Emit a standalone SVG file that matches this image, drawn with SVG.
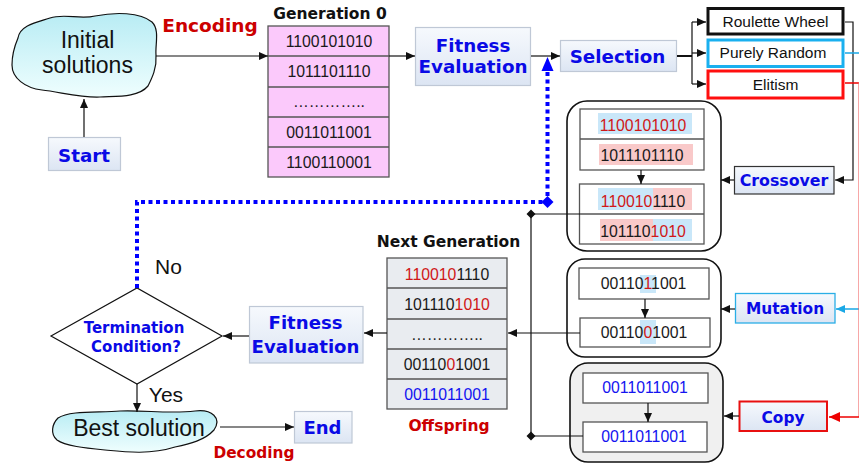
<svg xmlns="http://www.w3.org/2000/svg" width="859" height="464" viewBox="0 0 859 464">
<defs>
<linearGradient id="gBox" x1="0" y1="0" x2="0" y2="1"><stop offset="0" stop-color="#f6f9fd"/><stop offset="1" stop-color="#dce5f3"/></linearGradient>
<linearGradient id="gCloud" x1="0" y1="0" x2="0" y2="1"><stop offset="0" stop-color="#b8ecf4"/><stop offset="1" stop-color="#effefe"/></linearGradient>
<marker id="aBk" markerUnits="userSpaceOnUse" markerWidth="10" markerHeight="8" refX="9" refY="4" orient="auto"><path d="M0,0 L9,4 L0,8 Z" fill="#111"/></marker>
<marker id="aSky" markerUnits="userSpaceOnUse" markerWidth="10" markerHeight="8" refX="9" refY="4" orient="auto"><path d="M0,0 L9,4 L0,8 Z" fill="#1aa8e6"/></marker>
<marker id="aRed" markerUnits="userSpaceOnUse" markerWidth="12" markerHeight="10" refX="11" refY="5" orient="auto"><path d="M0,0 L11,5 L0,10 Z" fill="#ee0000"/></marker>
</defs>
<style>
.lbl{fill:url(#gBox);stroke:#bfc8d6;stroke-width:1.2}
.bt{font-family:"DejaVu Sans",Verdana,sans-serif;font-weight:bold;fill:#0a0ae6;text-anchor:middle}
.blk{font-family:"DejaVu Sans",Verdana,sans-serif;font-weight:bold;fill:#111;text-anchor:middle}
.redb{font-family:"DejaVu Sans",Verdana,sans-serif;font-weight:bold;fill:#cc0000;text-anchor:middle}
.rt{font-family:"Liberation Sans",Arial,sans-serif;fill:#111;text-anchor:middle}
.dg{font-family:"Liberation Sans",Arial,sans-serif;font-size:15.8px;fill:#1a1a1a;text-anchor:middle}
.r{fill:#d01818}
.b{fill:#1414f0}
.cell{stroke:#555;stroke-width:1.3}
.box{fill:#fff;stroke:#555;stroke-width:1.3}
.grp{fill:#fff;stroke:#111;stroke-width:1.6}
.ln{fill:none;stroke:#111;stroke-width:1.2}
.hb{fill:#c9e7f9}
.hp{fill:#f9c9c9}
</style>

<g id="initial">
<path d="M18,38 C20,25 38,22 50,18 C65,13 80,20 95,16 C115,12 140,12 152,22 C160,30 155,45 156,55 C157,68 152,78 148,86 C138,98 115,96 100,97 C82,98 60,92 42,90 C25,88 12,78 12,65 C12,55 15,45 18,38 Z" fill="url(#gCloud)" stroke="#111" stroke-width="1.2"/>
<text class="rt" x="87.5" y="48" font-size="23">Initial</text>
<text class="rt" x="87.5" y="73" font-size="23">solutions</text>
</g>

<g id="start">
<rect class="lbl" x="48.5" y="137.5" width="72" height="33"/>
<text class="bt" x="84" y="162" font-size="18.3">Start</text>
</g>

<text class="redb" x="210" y="32" font-size="18.5">Encoding</text>

<g id="gen0">
<text class="blk" x="330" y="19" font-size="15.5">Generation 0</text>
<rect class="cell" x="268" y="26" width="121" height="151" fill="#fbc9fb"/>
<line class="cell" x1="268" y1="56" x2="389" y2="56"/>
<line class="cell" x1="268" y1="87" x2="389" y2="87"/>
<line class="cell" x1="268" y1="117" x2="389" y2="117"/>
<line class="cell" x1="268" y1="147" x2="389" y2="147"/>
<text class="dg" x="329" y="47">1100101010</text>
<text class="dg" x="329" y="77">1011101110</text>
<text class="dg" x="329" y="107">…………..</text>
<text class="dg" x="329" y="138">0011011001</text>
<text class="dg" x="329" y="168">1100110001</text>
</g>

<g id="fitness1">
<rect class="lbl" x="415.5" y="27.5" width="115" height="58"/>
<text class="bt" x="473" y="52" font-size="18.3">Fitness</text>
<text class="bt" x="473" y="73" font-size="18.3">Evaluation</text>
</g>

<g id="selection">
<rect class="lbl" x="560.5" y="40.5" width="116" height="31"/>
<text class="bt" x="617.5" y="63" font-size="18.3">Selection</text>
</g>

<g id="roulette">
<rect x="708" y="8.5" width="135" height="25.5" fill="#fff" stroke="#111" stroke-width="3"/>
<text class="rt" x="775.5" y="27" font-size="15.5">Roulette Wheel</text>
</g>
<g id="random">
<rect x="708" y="40" width="135" height="26.5" fill="#fff" stroke="#1ab0ef" stroke-width="3"/>
<text class="rt" x="773" y="58" font-size="15.5">Purely Random</text>
</g>
<g id="elitism">
<rect x="708" y="71" width="135" height="27" fill="#fff" stroke="#ff0f0f" stroke-width="3"/>
<text class="rt" x="775.5" y="90" font-size="15.5">Elitism</text>
</g>

<g id="crossoverGroup">
<rect class="grp" x="567" y="101" width="154" height="150" rx="20"/>
<rect class="box" x="580" y="109" width="124" height="61"/>
<line class="cell" x1="580" y1="139" x2="704" y2="139"/>
<rect class="hb" x="598" y="113" width="94" height="21"/>
<rect class="hp" x="599" y="144" width="94" height="21"/>
<text class="dg" x="643" y="131"><tspan class="r">1100101010</tspan></text>
<text class="dg" x="642" y="161">1011101110</text>
<rect class="box" x="579.5" y="184" width="124.5" height="60"/>
<line class="cell" x1="579.5" y1="214" x2="704" y2="214"/>
<rect class="hb" x="598" y="188" width="55" height="22"/>
<rect class="hp" x="653" y="188" width="39" height="22"/>
<rect class="hp" x="600" y="219" width="53" height="22"/>
<rect class="hb" x="653" y="219" width="39" height="22"/>
<text class="dg" x="643" y="207"><tspan class="r">110010</tspan>1110</text>
<text class="dg" x="643" y="237">101110<tspan class="r">1010</tspan></text>
</g>

<g id="crossover">
<rect x="734.5" y="166.5" width="99.5" height="27.5" fill="url(#gBox)" stroke="#333" stroke-width="1.2"/>
<text class="bt" x="784" y="186" font-size="15.8">Crossover</text>
</g>

<g id="mutationGroup">
<rect class="grp" x="567" y="259" width="154" height="98" rx="18"/>
<rect class="box" x="579" y="268" width="130" height="31"/>
<rect class="hb" x="640" y="275" width="16" height="18"/>
<text class="dg" x="643.5" y="289">00110<tspan class="r">1</tspan>1001</text>
<rect class="box" x="580" y="318" width="130" height="29"/>
<rect class="hb" x="640" y="320" width="16" height="24"/>
<text class="dg" x="644" y="338">00110<tspan class="r">0</tspan>1001</text>
</g>

<g id="mutation">
<rect x="735.5" y="293.5" width="99.5" height="29.5" fill="url(#gBox)" stroke="#2aaee6" stroke-width="1.3"/>
<text class="bt" x="785" y="314" font-size="15.4">Mutation</text>
</g>

<g id="copyGroup">
<rect x="570" y="363" width="153" height="99" rx="18" fill="#f0f0f0" stroke="#111" stroke-width="1.6"/>
<rect class="box" x="583" y="373" width="125" height="30"/>
<text class="dg b" x="645" y="393">0011011001</text>
<rect class="box" x="583" y="422" width="124" height="30"/>
<text class="dg b" x="644" y="442">0011011001</text>
</g>

<g id="copy">
<rect x="739.5" y="401.5" width="87.5" height="29.5" fill="url(#gBox)" stroke="#e81010" stroke-width="2"/>
<text class="bt" x="783" y="423" font-size="15.4">Copy</text>
</g>

<g id="nextGen">
<text class="blk" x="448.5" y="247" font-size="15.5">Next Generation</text>
<rect class="cell" x="387" y="258" width="120" height="151" fill="#e9ecf0"/>
<line class="cell" x1="387" y1="288" x2="507" y2="288"/>
<line class="cell" x1="387" y1="319" x2="507" y2="319"/>
<line class="cell" x1="387" y1="349" x2="507" y2="349"/>
<line class="cell" x1="387" y1="379" x2="507" y2="379"/>
<text class="dg" x="447" y="280"><tspan class="r">110010</tspan>1110</text>
<text class="dg" x="447" y="310">101110<tspan class="r">1010</tspan></text>
<text class="dg" x="447" y="340">…………..</text>
<text class="dg" x="447" y="370">00110<tspan class="r">0</tspan>1001</text>
<text class="dg b" x="447" y="400">0011011001</text>
<text class="redb" x="449" y="431" font-size="15.5">Offspring</text>
</g>

<g id="fitness2">
<rect class="lbl" x="249.5" y="306.5" width="113.5" height="56.5"/>
<text class="bt" x="305.5" y="329" font-size="18.1">Fitness</text>
<text class="bt" x="305.5" y="353" font-size="18.1">Evaluation</text>
</g>

<g id="termination">
<path d="M51,336 L137,288 L222,336 L137,384 Z" fill="#fff" stroke="#111" stroke-width="1.2"/>
<text class="bt" x="134" y="333" font-size="15">Termination</text>
<text class="bt" x="136" y="352" font-size="15">Condition?</text>
</g>

<text class="rt" x="168.5" y="274" font-size="21">No</text>
<text class="rt" x="166" y="402" font-size="21">Yes</text>

<g id="best">
<path d="M58,418 C70,410 100,413 120,411 C145,410 170,414 195,411 C212,409 222,418 214,430 C205,440 190,444 175,447 C150,455 125,452 105,450 C85,448 65,446 57,440 C50,434 52,424 58,418 Z" fill="url(#gCloud)" stroke="#111" stroke-width="1.2"/>
<text class="rt" x="139" y="436" font-size="23">Best solution</text>
</g>

<g id="end">
<rect class="lbl" x="294.5" y="411.5" width="57.5" height="31.5"/>
<text class="bt" x="322.5" y="434" font-size="18">End</text>
</g>
<text class="redb" x="254" y="458" font-size="15.4">Decoding</text>

<g id="connectors">
<line class="ln" x1="84" y1="137" x2="84" y2="99" marker-end="url(#aBk)"/>
<line class="ln" x1="156" y1="56" x2="268" y2="56" marker-end="url(#aBk)"/>
<line class="ln" x1="389" y1="56" x2="415" y2="56" marker-end="url(#aBk)"/>
<line class="ln" x1="531" y1="56" x2="560" y2="56" marker-end="url(#aBk)"/>
<line x1="677" y1="56" x2="692" y2="56" stroke="#111" stroke-width="2"/>
<line class="ln" x1="692" y1="22" x2="692" y2="84"/>
<line class="ln" x1="692" y1="22" x2="706" y2="22" marker-end="url(#aBk)"/>
<line class="ln" x1="692" y1="53" x2="706" y2="53" marker-end="url(#aBk)"/>
<line class="ln" x1="692" y1="84" x2="706" y2="84" marker-end="url(#aBk)"/>
<path class="ln" d="M845,22 H853 V180 H835" marker-end="url(#aBk)"/>
<path d="M845,53 H860 V309 H836" fill="none" stroke="#1aa8e6" stroke-width="1.5" marker-end="url(#aSky)"/>
<path d="M845,83 H858.9" fill="none" stroke="#ee0000" stroke-width="1.5"/>
<path d="M859.2,83 V417" fill="none" stroke="#f06060" stroke-width="1.5"/>
<path d="M859,417 H829" fill="none" stroke="#ee0000" stroke-width="1.5" marker-end="url(#aRed)"/>
<line class="ln" x1="734" y1="180" x2="721" y2="180" marker-end="url(#aBk)"/>
<line class="ln" x1="735" y1="309" x2="721" y2="309" marker-end="url(#aBk)"/>
<line class="ln" x1="739" y1="416" x2="724" y2="416" marker-end="url(#aBk)"/>
<line class="ln" x1="641" y1="170" x2="641" y2="184" marker-end="url(#aBk)"/>
<line class="ln" x1="645" y1="299" x2="645" y2="318" marker-end="url(#aBk)"/>
<line class="ln" x1="648" y1="403" x2="648" y2="422" marker-end="url(#aBk)"/>
<path class="ln" d="M580,214 H531 V436 H583"/>
<path d="M531,209.5 L535.5,214 L531,218.5 L526.5,214 Z M531,431.5 L535.5,436 L531,440.5 L526.5,436 Z" fill="#111"/>
<line class="ln" x1="580" y1="333" x2="508" y2="333" marker-end="url(#aBk)"/>
<line class="ln" x1="387" y1="333" x2="364" y2="333" marker-end="url(#aBk)"/>
<line class="ln" x1="249" y1="336" x2="223" y2="336" marker-end="url(#aBk)"/>
<line class="ln" x1="137" y1="384" x2="137" y2="412" marker-end="url(#aBk)"/>
<line class="ln" x1="220" y1="427" x2="294" y2="427" marker-end="url(#aBk)"/>
<path d="M137,288 V202 H547.5 V71" fill="none" stroke="#0000ff" stroke-width="4" stroke-dasharray="4 3.5"/>
<path d="M541.5,71 L553.5,71 L547.5,57 Z" fill="#0000ff"/>
<path d="M547.5,196 L553.5,202 L547.5,208 L541.5,202 Z" fill="#0000ff"/>
</g>
</svg>
